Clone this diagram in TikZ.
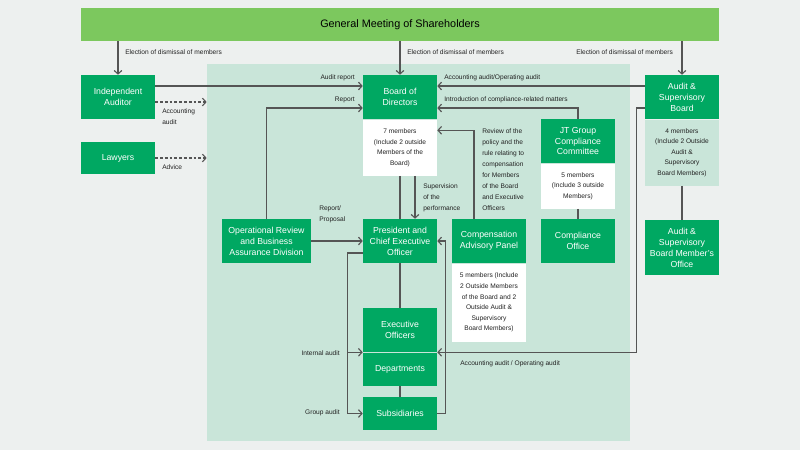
\documentclass[tikz,border=0pt]{standalone}
\usepackage{fontspec}
\setmainfont{Liberation Sans}
\usetikzlibrary{positioning,arrows.meta}
\definecolor{bgc}{HTML}{EDF0EF}
\definecolor{topc}{HTML}{7CC85E}
\definecolor{pnlc}{HTML}{C9E5D9}
\definecolor{grn}{HTML}{00A862}
\definecolor{lnc}{HTML}{555555}
\definecolor{txc}{HTML}{222222}

\begin{document}
\begin{tikzpicture}[x=0.025cm,y=-0.025cm
		,every node/.append style={inner sep=1pt, align=center}
		,gb/.style={fill=grn, text=white, minimum width=1.85cm, minimum height=1.1cm, font=\fontsize{6.2}{7.8}\selectfont}
		,wb/.style={fill=white, text=txc, minimum width=1.85cm, font=\fontsize{4.7}{7.5}\selectfont}
		,mb/.style={wb, fill=pnlc}
		,lab/.style={text=txc, align=left, inner sep=0pt, font=\fontsize{4.7}{7.8}\selectfont}
		,ln/.style={draw=lnc, line width=0.8pt}
		,arr/.style={ln, -{Straight Barb[length=2.5pt,width=5.5pt]}}
		,dsh/.style={arr, dash pattern=on 2pt off 1.4pt}
	]
	\fill[bgc] (0,0) rectangle (800,450);
	\useasboundingbox (0,0) rectangle (800,450);

	% shareholders and panel
	\node [fill=topc, minimum width=15.95cm, minimum height=0.825cm, font=\fontsize{7.7}{9}\selectfont] (gms) at (400,24.5) {General Meeting of Shareholders};
	\node [fill=pnlc, minimum width=10.575cm, minimum height=9.425cm] (pnl) at (418.5,252.5) {};

	% boxes
	\node [gb] (ia) at (118,97) {Independent\\Auditor};
	\node [gb, minimum height=0.8cm] (law) at (118,158) {Lawyers};
	\node [gb] (bod) at (400,97) {Board of\\Directors};
	\node [wb, minimum height=1.4cm, below=0pt of bod] (bodw) {7 members\\(Include 2 outside\\Members of the\\Board)};
	\node [gb] (asb) at (682,97) {Audit \&\\Supervisory\\Board};
	\node [mb, minimum height=1.65cm, below=0pt of asb] (asbm) {4 members\\(Include 2 Outside\\Audit \&\\Supervisory\\Board Members)};
	\node [gb, minimum height=1.375cm] (asbo) at (682,247.5) {Audit \&\\Supervisory\\Board Member’s\\Office};
	\node [gb] (jtc) at (578,141) {JT Group\\Compliance\\Committee};
	\node [wb, minimum height=1.125cm, below=0pt of jtc] (jtcw) {5 members\\(Include 3 outside\\Members)};
	\node [gb] (co) at (578,241) {Compliance\\Office};
	\node [gb, minimum width=2.225cm] (ora) at (266.5,241) {Operational Review\\and Business\\Assurance Division};
	\node [gb] (pce) at (400,241) {President and\\Chief Executive\\Officer};
	\node [gb] (cap) at (489,241) {Compensation\\Advisory Panel};
	\node [wb, minimum height=1.95cm, below=0pt of cap] (capw) {5 members (Include\\2 Outside Members\\of the Board and 2\\Outside Audit \&\\Supervisory\\Board Members)};
	\node [gb] (eo) at (400,330) {Executive\\Officers};
	\node [gb, minimum height=0.825cm, below=0.4pt of eo] (dep) {Departments};
	\node [gb, minimum height=0.825cm] (sub) at (400,413.5) {Subsidiaries};

	% election
	\draw [arr] (gms.south -| ia.north) -- (ia.north);
	\draw [arr] (gms.south -| bod.north) -- (bod.north);
	\draw [arr] (gms.south -| asb.north) -- (asb.north);
	\node [lab, anchor=west] (el1) at (125,52) {Election of dismissal of members};
	\node [lab, anchor=west] (el2) at (407,52) {Election of dismissal of members};
	\node [lab, anchor=west] (el3) at (576,52) {Election of dismissal of members};

	% auditor and lawyers
	\coordinate (iaD) at ([yshift=-1.25mm]ia.east);
	\draw [arr] ([yshift=2.75mm]ia.east) -- ([yshift=2.75mm]bod.west);
	\draw [dsh] (iaD) -- (iaD -| pnl.west);
	\draw [dsh] (law.east) -- (law.east -| pnl.west);
	\node [lab, anchor=east] (l1) at (355,78) {Audit report};
	\node [lab, anchor=west] (l2) at (162,116.5) {Accounting\\audit};
	\node [lab, anchor=west] (l3) at (162,167) {Advice};

	% into the board
	\draw [arr] (ora.north) |- ([yshift=-2.75mm]bod.west);
	\draw [arr] ([yshift=2.75mm]asb.west) -- ([yshift=2.75mm]bod.east);
	\draw [arr] (jtc.north) |- ([yshift=-2.75mm]bod.east);
	\draw [arr] ([xshift=-3.75mm]cap.north) |- ([yshift=-2.75mm]bodw.north east);
	\node [lab, anchor=east] (l4) at (355,100) {Report};
	\node [lab, anchor=west] (l5) at (444,78) {Accounting audit/Operating audit};
	\node [lab, anchor=west] (l6) at (444,100) {Introduction of compliance-related matters};
	\node [lab, anchor=west] (l7) at (482,169.5) {Review of the\\policy and the\\rule relating to\\compensation\\for Members\\of the Board\\and Executive\\Officers};

	% board to president
	\draw [ln] (bodw.south) -- (pce.north);
	\draw [arr] ([xshift=3.75mm]bodw.south) -- ([xshift=3.75mm]pce.north);
	\draw [arr] (ora.east) -- (pce.west);
	\node [lab, anchor=west] (l8) at (423,198) {Supervision\\of the\\performance};
	\node [lab, anchor=west] (l9) at (319,214.5) {Report/\\Proposal};

	% plain links
	\draw [ln] (jtcw.south) -- (co.north);
	\draw [ln] (asbm.south) -- (asbo.north);
	\draw [ln] (pce.south) -- (eo.north);
	\draw [ln] (dep.south) -- (sub.north);

	% audits
	\coordinate (lbt) at ([yshift=-3mm]pce.west);
	\coordinate (lbx) at ([xshift=-3.75mm]lbt);
	\draw [arr] (lbt) -- (lbx) |- (sub.west);
	\draw [arr] (lbx |- eo.south west) -- (eo.south west);
	\coordinate (rbx) at ([xshift=2mm]pce.east);
	\draw [arr, {Straight Barb[length=2.5pt,width=5.5pt]}-] (pce.east) -- (rbx) |- (sub.east);
	\coordinate (asbl) at ([yshift=-2.75mm]asb.west);
	\draw [arr] (asbl) -- ++(-8,0) |- (eo.south east);
	\node [lab, anchor=east] (l10) at (340,353) {Internal audit};
	\node [lab, anchor=east] (l11) at (340,413) {Group audit};
	\node [lab, anchor=west] (l12) at (460,364) {Accounting audit / Operating audit};
\end{tikzpicture}
\end{document}
